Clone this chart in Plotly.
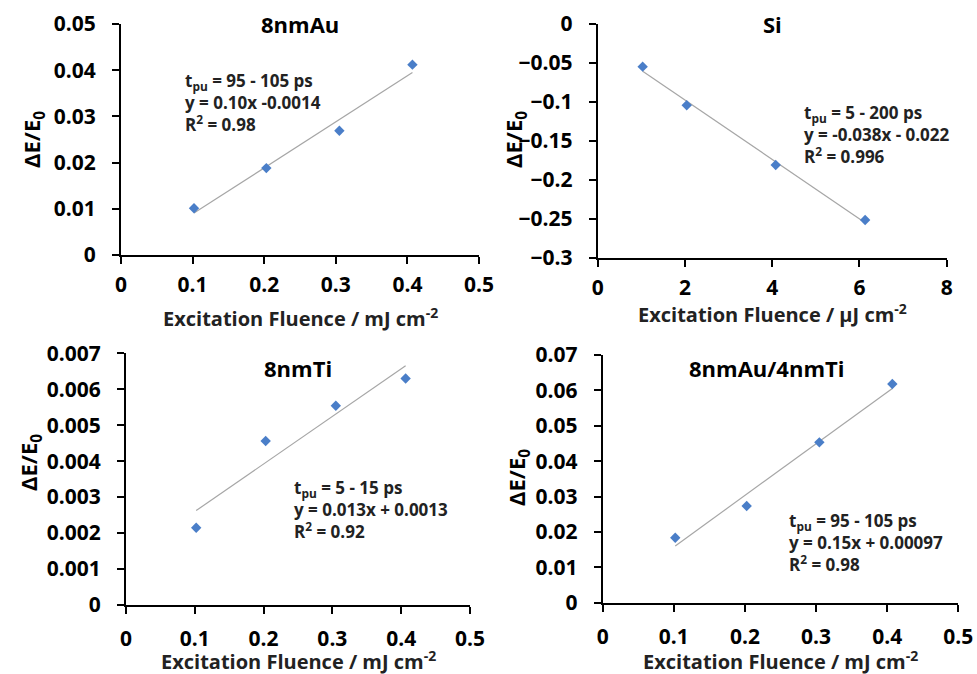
import numpy as np
import plotly.graph_objects as go

# ---- data ----
au_x = [0.102, 0.203, 0.305, 0.407]
au_y = [0.0101, 0.0188, 0.0269, 0.0412]

si_x = [1.03, 2.04, 4.08, 6.13]
si_y = [-0.0548, -0.1044, -0.181, -0.2516]

ti_x = [0.102, 0.203, 0.305, 0.4065]
ti_y = [0.00215, 0.00456, 0.00554, 0.0063]

auti_x = [0.102, 0.2024, 0.3046, 0.4072]
auti_y = [0.01837, 0.02732, 0.04532, 0.0618]

titles = ["8nmAu", "Si", "8nmTi", "8nmAu/4nmTi"]
fit_texts = [
    "t<sub>pu</sub> = 95 - 105 ps<br>y = 0.10x -0.0014<br>R<sup>2</sup> = 0.98",
    "t<sub>pu</sub> = 5 - 200 ps<br>y = -0.038x - 0.022<br>R<sup>2</sup> = 0.996",
    "t<sub>pu</sub> = 5 - 15 ps<br>y = 0.013x + 0.0013<br>R<sup>2</sup> = 0.92",
    "t<sub>pu</sub> = 95 - 105 ps<br>y = 0.15x + 0.00097<br>R<sup>2</sup> = 0.98",
]
x_titles = ["Excitation Fluence / mJ cm<sup>-2</sup>",
            "Excitation Fluence / µJ cm<sup>-2</sup>",
            "Excitation Fluence / mJ cm<sup>-2</sup>",
            "Excitation Fluence / mJ cm<sup>-2</sup>"]
y_title = "ΔE/E<sub>0</sub>"

x_ranges = [[0, 0.5], [0, 8], [0, 0.5], [0, 0.5]]
x_dticks = [0.1, 2, 0.1, 0.1]
y_ranges = [[0, 0.05], [-0.3, 0], [0, 0.007], [0, 0.07]]
y_dticks = [0.01, 0.05, 0.001, 0.01]

# ---- layout geometry ----
x_domains = [[0.1238, 0.4903], [0.6118, 0.969], [0.129, 0.481], [0.6169, 0.9809]]
y_domains = [[0.6217, 0.9644], [0.6177, 0.9644], [0.1024, 0.4758], [0.1058, 0.4733]]
x_standoffs = [3, 3, 7, 7]
title_pos = [(0.5, 1.0), (0.5, 1.0), (0.5, 0.94), (0.46, 0.947)]
fit_pos = [(0.173, 0.662), (0.5845, 0.526), (0.4834, 0.38), (0.5174, 0.2434)]
xtitle_pos = [(300, 317), (772, 313), (298, 660), (780, 660)]
ytitle_pos = [(33, 140), (515, 140), (30, 463), (518, 478)]

W, H = 977, 674
FONT = "Open Sans"
MARKER_COLOR = "#4A7EC8"
TREND_COLOR = "#A6A6A6"

datasets = [(au_x, au_y), (si_x, si_y), (ti_x, ti_y), (auti_x, auti_y)]

fig = go.Figure()
annotations = []
layout = dict(
    width=W, height=H,
    margin=dict(l=0, r=0, t=0, b=0, autoexpand=False),
    paper_bgcolor="white", plot_bgcolor="white",
    showlegend=False,
    font=dict(family=FONT, color="black"),
)

for i, (xs, ys) in enumerate(datasets):
    n = i + 1
    xa = "x" if n == 1 else f"x{n}"
    ya = "y" if n == 1 else f"y{n}"
    # linear trendline from least-squares fit
    k, b = np.polyfit(xs, ys, 1)
    tx = np.array([min(xs), max(xs)])
    fig.add_trace(go.Scatter(x=tx, y=k * tx + b, mode="lines",
                             line=dict(color=TREND_COLOR, width=1.2),
                             xaxis=xa, yaxis=ya, hoverinfo="skip"))
    fig.add_trace(go.Scatter(x=xs, y=ys, mode="markers",
                             marker=dict(symbol="diamond", size=8, color=MARKER_COLOR),
                             xaxis=xa, yaxis=ya))
    common = dict(showgrid=False, zeroline=False, showline=True, linecolor="black",
                  linewidth=2, ticks="outside", ticklen=7, tickwidth=2, tickcolor="black",
                  automargin=False,
                  tickfont=dict(family=FONT, size=21, color="black", weight="bold"))
    layout[f"xaxis{'' if n == 1 else n}"] = dict(
        domain=x_domains[i], anchor=ya, range=x_ranges[i], dtick=x_dticks[i],
        tick0=0, ticklabelstandoff=x_standoffs[i], **common)
    layout[f"yaxis{'' if n == 1 else n}"] = dict(
        domain=y_domains[i], anchor=xa, range=y_ranges[i], dtick=y_dticks[i],
        tick0=0, ticklabelstandoff=12, **common)
    xref_d = f"{xa} domain"
    yref_d = f"{ya} domain"
    annotations.append(dict(text=titles[i], x=title_pos[i][0], y=title_pos[i][1],
                            xref=xref_d, yref=yref_d, showarrow=False,
                            xanchor="center", yanchor="middle",
                            font=dict(family=FONT, size=22, weight="bold", color="black")))
    annotations.append(dict(text=fit_texts[i], x=fit_pos[i][0], y=fit_pos[i][1],
                            xref=xref_d, yref=yref_d, showarrow=False,
                            xanchor="left", yanchor="middle", align="left",
                            font=dict(family=FONT, size=17, weight="bold", color="#222222")))
    annotations.append(dict(text=x_titles[i], x=xtitle_pos[i][0] / W,
                            y=1 - xtitle_pos[i][1] / H, xref="paper", yref="paper",
                            showarrow=False, xanchor="center", yanchor="middle",
                            font=dict(family=FONT, size=20, weight="bold", color="#222222")))
    annotations.append(dict(text=y_title, x=ytitle_pos[i][0] / W,
                            y=1 - ytitle_pos[i][1] / H, xref="paper", yref="paper",
                            showarrow=False, xanchor="center", yanchor="middle",
                            textangle=-90,
                            font=dict(family=FONT, size=22, weight="bold", color="black")))

layout["annotations"] = annotations
fig.update_layout(**layout)
fig.write_html("out.html", config={"displayModeBar": False},
               post_script="document.body.style.margin='0';")
